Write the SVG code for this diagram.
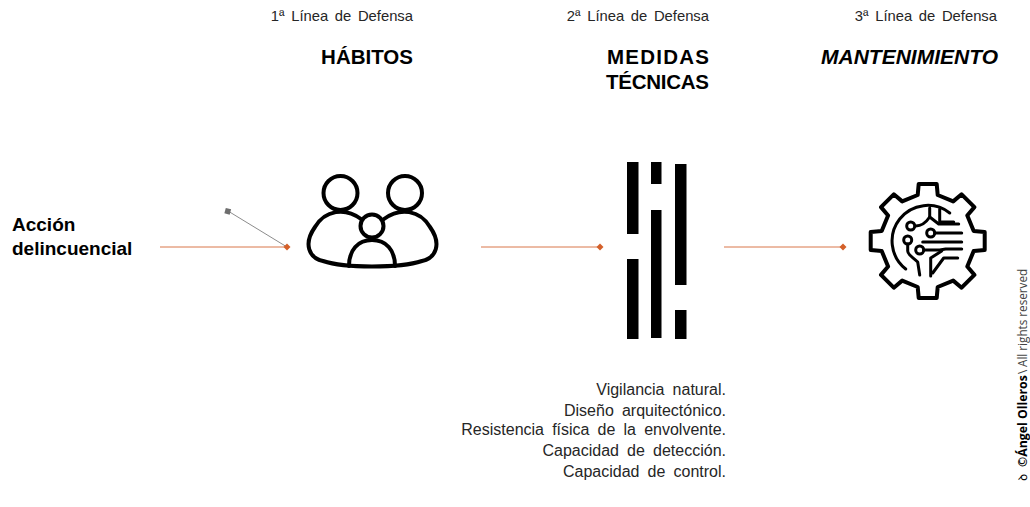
<svg xmlns="http://www.w3.org/2000/svg" width="1030" height="507" viewBox="0 0 1030 507">
<style>
text{font-family:"Liberation Sans",Arial,sans-serif;fill:#000}
.sub{font-size:14.800px;text-anchor:end;fill:#262626;word-spacing:2.500px}
.head{font-size:20.500px;font-weight:bold;text-anchor:end}
.list{font-size:16px;text-anchor:end;fill:#262626;word-spacing:3.700px}
.lbl{font-size:19px;font-weight:bold}
.ic{fill:none;stroke:#000;stroke-width:4;stroke-linejoin:round;stroke-linecap:round}
.conn{stroke:#d9764a;stroke-width:1;fill:none}
.dot{fill:#d4602a}
.cr{font-family:"Open Sans",sans-serif}
</style>
<g id="labels">
<text class="sub" x="413" y="21">1ª Línea de Defensa</text>
<text class="sub" x="709" y="21">2ª Línea de Defensa</text>
<text class="sub" x="997" y="21">3ª Línea de Defensa</text>
<text class="head" x="413" y="64">HÁBITOS</text>
<text class="head" x="709" y="64" textLength="102" lengthAdjust="spacing">MEDIDAS</text>
<text class="head" x="709" y="89" textLength="103" lengthAdjust="spacing">TÉCNICAS</text>
<text class="head" x="998" y="64" font-style="italic" style="font-size:21px">MANTENIMIENTO</text>
</g>
<g id="accion">
<text class="lbl" x="12" y="231">Acción</text>
<text class="lbl" x="12" y="255">delincuencial</text>
</g>
<g id="connectors">
<path class="conn" d="M160 247H287M481 247H600M724 247H843"/>
<path d="M228 211L287 247" stroke="#8c8c8c" stroke-width="1" fill="none"/>
<rect x="225" y="208.500" width="5.500" height="5.500" fill="#6e6e6e" transform="rotate(15 227.700 211.200)"/>
<path class="dot" d="M287 243.500L290.500 247L287 250.500L283.500 247Z"/>
<path class="dot" d="M600 243.500L603.500 247L600 250.500L596.500 247Z"/>
<path class="dot" d="M843 243.500L846.500 247L843 250.500L839.500 247Z"/>
</g>
<g id="habitos" class="ic">
<circle cx="340.500" cy="193" r="17"/>
<circle cx="405" cy="193" r="17"/>
<circle cx="372" cy="226" r="11.500"/>
<path d="M361 219C345 207 325 210 315 227C303 244 309 258 323 261C335 265 350 266.500 372 266.500C394 266.500 410 265 422 261C436 258 442 244 430 227C420 210 400 207 384 219"/>
<path d="M349 266C349 250 358 240 372 240C386 240 395 250 395 266"/>
</g>
<g id="medidas" fill="#000">
<rect x="627" y="162" width="11.500" height="72"/>
<rect x="627" y="259" width="11.500" height="80"/>
<rect x="651" y="162" width="10.500" height="22"/>
<rect x="651" y="210" width="10.500" height="128"/>
<rect x="675" y="164" width="11.500" height="121"/>
<rect x="675" y="310" width="11.500" height="29"/>
</g>
<g id="mantenimiento" class="ic" transform="translate(927.700 241)">
<path d="M-10 -46L-9 -57L9 -57L10 -46L25.500 -39.600L33.900 -46.700L46.700 -33.900L39.600 -25.500L46 -10L57 -9L57 9L46 10L39.600 25.500L46.700 33.900L33.900 46.700L25.500 39.600L10 46L9 57L-9 57L-10 46L-25.500 39.600L-33.900 46.700L-46.700 33.900L-39.600 25.500L-46 10L-57 9L-57 -9L-46 -10L-39.600 -25.500L-46.700 -33.900L-33.900 -46.700L-25.500 -39.600Z"/>
<g style="stroke-width:3">
<path d="M22 -28A35 35 0 1 0 -22 28"/>
<path d="M2 -33V-24L11 -17H31"/>
<path d="M12 -32V-19H26"/>
<path d="M-12 -15C-6 -15 -2 -18 2 -24"/>
<circle cx="-17" cy="-15" r="4"/>
<circle cx="3" cy="-8" r="4"/>
<path d="M7 -8H34M-5 1H34"/>
<circle cx="-20" cy="-1" r="4"/>
<path d="M-20 3V10C-20 14 -15 16 -10 21L-8 34"/>
<circle cx="-8" cy="9" r="4"/>
<path d="M-4 9H12L18 8H34"/>
<path d="M3 35V17L14 10M5 32L16 17H30"/>
</g>
</g>
<g id="lista">
<text class="list" x="726" y="395">Vigilancia natural.</text>
<text class="list" x="726" y="416">Diseño arquitectónico.</text>
<text class="list" x="726" y="435">Resistencia física de la envolvente.</text>
<text class="list" x="726" y="456">Capacidad de detección.</text>
<text class="list" x="726" y="477">Capacidad de control.</text>
</g>
<g id="credit" transform="translate(1027 481) rotate(-90)">
<text class="cr" x="0" y="0" font-size="12">ꝺ</text>
<text class="cr" x="14" y="0" font-size="12.300" font-weight="bold">©Ángel Olleros</text>
<text class="cr" x="107" y="0" font-size="12" style="fill:#444">\</text>
<text class="cr" x="114" y="0" font-size="11.700" style="fill:#444">All rights reserved</text>
</g>
</svg>
